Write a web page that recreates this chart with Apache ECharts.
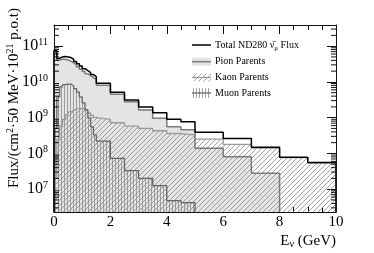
<!DOCTYPE html>
<html>
<head>
<meta charset="utf-8">
<script src="https://cdn.jsdelivr.net/npm/echarts@6/dist/echarts.min.js"></script>
<style>
html,body{margin:0;padding:0;background:#fff;}
#c{width:374px;height:253px;}
</style>
</head>
<body>
<div id="c"></div>
<script>
// Bin edges (GeV)
const binEdges = [0,0.1,0.2,0.3,0.4,0.5,0.6,0.7,0.8,0.9,1.0,1.1,1.2,1.3,1.4,1.5,2,2.5,3,3.5,4,4.5,5,6,7,8,9,10];
// Flux per bin
const totalFlux = [7.5e10,4.6e10,5.0e10,5.1e10,5.0e10,4.8e10,4.3e10,3.7e10,3.2e10,2.8e10,2.35e10,2.07e10,1.82e10,1.6e10,1.41e10,9.1e9,5.1e9,3.1e9,2.0e9,1.38e9,9.0e8,7.7e8,3.9e8,2.6e8,1.48e8,7.8e7,5.6e7];
const pionFlux  = [6.5e10,4.1e10,4.3e10,4.3e10,4.1e10,3.8e10,3.4e10,3.0e10,2.6e10,2.25e10,1.95e10,1.7e10,1.5e10,1.32e10,1.17e10,8.0e9,4.5e9,2.8e9,1.64e9,9.6e8,5.6e8,4.6e8,1.4e8,8.1e7,2.8e7,null,null];
const kaonFlux  = [2e7,2.5e8,6e8,9e8,1.2e9,1.45e9,1.6e9,1.75e9,1.82e9,1.82e9,1.75e9,1.6e9,1.35e9,1.15e9,1.0e9,9.0e8,7.2e8,5.8e8,5.0e8,4.3e8,3.6e8,3.3e8,2.5e8,1.8e8,1.4e8,7.6e7,5.4e7];
const muonFlux  = [5e8,3.8e9,7.3e9,8.4e9,8.7e9,8.7e9,7.7e9,6.5e9,5.2e9,3.8e9,2.6e9,1.64e9,9.8e8,5.5e8,3.3e8,2.2e8,7.3e7,3.3e7,2.0e7,1.26e7,4.8e6,4.2e6,null,null,null,null,null];
// Axis ranges and tick labels
const xTicks = [0,2,4,6,8,10];
const yDecades = [7,8,9,10,11];
const yMin = 2.3e6, yMax = 3.9e11;

const SERIF = 'Liberation Serif';

function steps(vals){
  const pts = [];
  let started = false;
  for (let i = 0; i < vals.length; i++){
    const v = vals[i];
    if (v == null){ if (started){ pts.push([binEdges[i], yMin]); started = false; } break; }
    if (!started){ pts.push([binEdges[i], yMin]); started = true; }
    pts.push([binEdges[i], v]); pts.push([binEdges[i+1], v]);
  }
  if (started) pts.push([binEdges[vals.length], yMin]);
  return pts;
}

function hatch(kind){
  const c = document.createElement('canvas');
  const s = kind === 'diag' ? 5 : 3;
  c.width = s; c.height = s;
  const g = c.getContext('2d');
  g.strokeStyle = '#8a8a8a';
  g.lineWidth = kind === 'diag' ? 0.8 : 0.8;
  g.beginPath();
  if (kind === 'diag'){
    g.moveTo(-1, s+1); g.lineTo(s+1, -1);
    g.moveTo(-1-s, s+1-s); g.lineTo(1, -1-s+s);
    g.moveTo(s-1, 2*s+1-s); g.lineTo(2*s+1, s-1);
  } else {
    g.moveTo(1.5, 0); g.lineTo(1.5, s);
  }
  g.stroke();
  return c;
}
const diagPat = hatch('diag');
const vertPat = hatch('vert');

const chart = echarts.init(document.getElementById('c'), null, {renderer:'canvas'});

function fillSeries(name, vals, color){
  return {name:name, type:'line', data:steps(vals), symbol:'none', showSymbol:false, z:2,
    lineStyle:{width:0, opacity:0}, areaStyle:{color:color, opacity:1, origin:'start'}, animation:false, silent:true};
}
function lineSeries(name, vals, color, w){
  return {name:name, type:'line', data:steps(vals), symbol:'none', showSymbol:false, z:3,
    lineStyle:{width:w, color:color}, animation:false, silent:true};
}

const axisLineStyle = {color:'#111', width:1};
const xAxisBase = {type:'value', min:0, max:10, interval:2,
  axisLine:{show:true, onZero:false, lineStyle:axisLineStyle},
  axisTick:{show:true, inside:true, length:9, lineStyle:{color:'#111'}},
  minorTick:{show:true, splitNumber:4, length:5, lineStyle:{color:'#111'}},
  splitLine:{show:false}, minorSplitLine:{show:false}};
const yAxisBase = {type:'log', logBase:10, min:yMin, max:yMax,
  axisLine:{show:true, onZero:false, lineStyle:axisLineStyle},
  axisTick:{show:true, inside:true, length:9, lineStyle:{color:'#111'}},
  splitLine:{show:false}};

chart.setOption({
  animation:false,
  grid:{left:54, right:38, top:25, bottom:41, containLabel:false},
  xAxis:[
    Object.assign({}, xAxisBase, {position:'bottom',
      axisLabel:{show:true, fontFamily:SERIF, fontSize:15, color:'#000', margin:3,
        formatter:function(v){ return xTicks.indexOf(v) >= 0 ? String(v) : ''; }}}),
    Object.assign({}, xAxisBase, {position:'top', axisLabel:{show:false}})
  ],
  yAxis:[
    Object.assign({}, yAxisBase, {position:'left',
      axisLabel:{show:true, margin:6, color:'#000',
        formatter:function(v){
          const e = Math.log10(v), r = Math.round(e);
          if (Math.abs(e - r) > 1e-6 || yDecades.indexOf(r) < 0) return '';
          return '{b|10}{s|' + r + '}';
        },
        rich:{b:{fontFamily:SERIF, fontSize:16, lineHeight:18, color:'#000'},
              s:{fontFamily:SERIF, fontSize:10, lineHeight:10, verticalAlign:'top', color:'#000'}}}}),
    Object.assign({}, yAxisBase, {position:'right', axisLabel:{show:false}})
  ],
  series:[
    fillSeries('pionFill', pionFlux, '#e4e4e4'),
    fillSeries('kaonFill', kaonFlux, {image:diagPat, repeat:'repeat'}),
    fillSeries('muonFill', muonFlux, {image:vertPat, repeat:'repeat'}),
    lineSeries('Kaon Parents', kaonFlux, '#9a9a9a', 1.3),
    lineSeries('Pion Parents', pionFlux, '#7a7a7a', 1.5),
    lineSeries('Muon Parents', muonFlux, '#666666', 1.3),
    lineSeries('Total', totalFlux, '#000000', 1.5)
  ]
});

// decorations: minor log ticks, titles, legend
const gfx = [];
const xl = chart.convertToPixel({xAxisIndex:0}, 0);
const xr = chart.convertToPixel({xAxisIndex:0}, 10);
for (let d = 6; d <= 11; d++){
  for (let k = 2; k <= 9; k++){
    const v = k * Math.pow(10, d);
    if (v <= yMin || v >= yMax) continue;
    const py = chart.convertToPixel({yAxisIndex:0}, v);
    gfx.push({type:'line', shape:{x1:xl, y1:py, x2:xl+5, y2:py}, style:{stroke:'#111', lineWidth:1}, silent:true, z:10});
    gfx.push({type:'line', shape:{x1:xr-5, y1:py, x2:xr, y2:py}, style:{stroke:'#111', lineWidth:1}, silent:true, z:10});
  }
}
// y title
gfx.push({type:'text', x:14, y:98, rotation:Math.PI/2, silent:true, z:10,
  style:{text:'{m|Flux/(cm}{s|2}{m|·50 MeV·10}{s|21}{m| p.o.t)}', align:'center', verticalAlign:'middle',
    rich:{m:{fontFamily:SERIF, fontSize:15, lineHeight:17, fill:'#000'},
          s:{fontFamily:SERIF, fontSize:10, lineHeight:10, verticalAlign:'top', fill:'#000'}}}});
// x title
gfx.push({type:'text', x:336, y:241, silent:true, z:10,
  style:{text:'{m|E}{u|ν}{m| (GeV)}', align:'right', verticalAlign:'middle',
    rich:{m:{fontFamily:SERIF, fontSize:15, lineHeight:17, fill:'#000'},
          u:{fontFamily:SERIF, fontSize:10, lineHeight:10, verticalAlign:'bottom', fill:'#000'}}}});
// legend
const lx0 = 192, lx1 = 211, tx = 215;
const legRows = [45, 61.7, 77.5, 93];
const legRich = {m:{fontFamily:SERIF, fontSize:10, lineHeight:13, fill:'#000'},
                 u:{fontFamily:SERIF, fontSize:7, lineHeight:7, verticalAlign:'bottom', fill:'#000'}};
gfx.push({type:'line', shape:{x1:lx0, y1:legRows[0], x2:lx1, y2:legRows[0]}, style:{stroke:'#000', lineWidth:1.5}, z:10});
gfx.push({type:'rect', shape:{x:lx0, y:legRows[1]-4, width:lx1-lx0, height:8}, style:{fill:'#e4e4e4'}, z:10});
gfx.push({type:'line', shape:{x1:lx0, y1:legRows[1], x2:lx1, y2:legRows[1]}, style:{stroke:'#7a7a7a', lineWidth:1.5}, z:10});
gfx.push({type:'rect', shape:{x:lx0, y:legRows[2]-4, width:lx1-lx0, height:8}, style:{fill:{image:diagPat, repeat:'repeat'}}, z:10});
gfx.push({type:'line', shape:{x1:lx0, y1:legRows[2], x2:lx1, y2:legRows[2]}, style:{stroke:'#9a9a9a', lineWidth:1.3}, z:10});
gfx.push({type:'rect', shape:{x:lx0, y:legRows[3]-5, width:lx1-lx0, height:10}, style:{fill:{image:vertPat, repeat:'repeat'}}, z:10});
gfx.push({type:'line', shape:{x1:lx0, y1:legRows[3], x2:lx1, y2:legRows[3]}, style:{stroke:'#666', lineWidth:1.3}, z:10});
const legTexts = ['{m|Total ND280 ν̄}{u|μ}{m| Flux}', '{m|Pion Parents}', '{m|Kaon Parents}', '{m|Muon Parents}'];
legTexts.forEach(function(t, i){
  gfx.push({type:'text', x:tx, y:legRows[i], silent:true, z:10,
    style:{text:t, align:'left', verticalAlign:'middle', rich:legRich}});
});
chart.setOption({graphic:gfx});
</script>
</body>
</html>
